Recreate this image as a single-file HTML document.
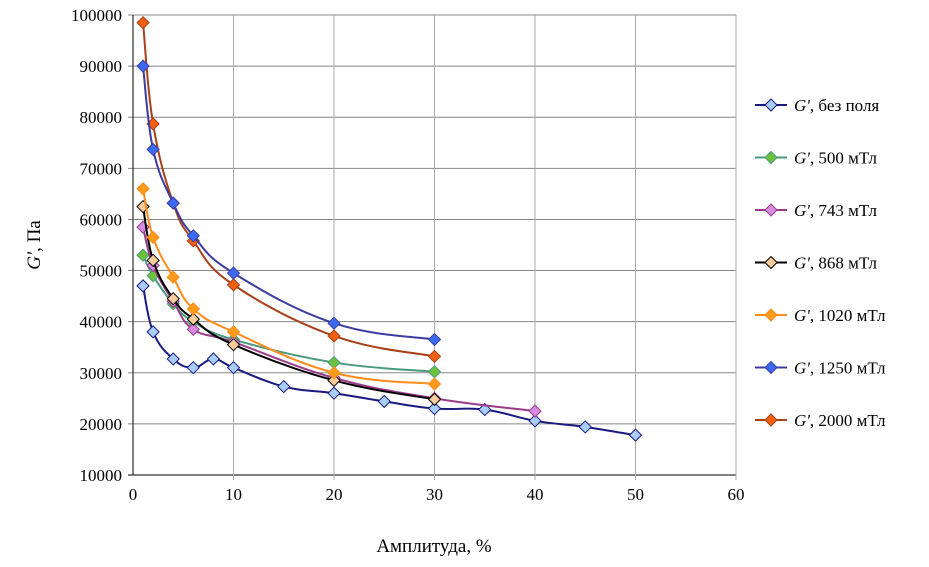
<!DOCTYPE html>
<html><head><meta charset="utf-8"><style>
body{margin:0;background:#fff}
svg text{font-family:"Liberation Serif",serif;fill:#000}
</style></head><body>
<svg id="chart" width="929" height="562"></svg>
<script>
const xTicks=[0,10,20,30,40,50,60];
const yTicks=[10000,20000,30000,40000,50000,60000,70000,80000,90000,100000];
const seriesNames=["без поля","500 мТл","743 мТл","868 мТл","1020 мТл","1250 мТл","2000 мТл"];
const xBase=[1,2,4,6,8,10,15,20,25,30,35,40,45,50];
const yBase=[47000,38000,32700,31000,32700,31000,27300,26000,24400,23000,22800,20600,19400,17800];
const x500=[1,2,4,6,10,20,30];
const y500=[53000,49000,43500,40000,36500,32000,30200];
const x743=[1,2,4,6,10,20,30,40];
const y743=[58500,51000,44000,38500,36000,29000,25000,22500];
const x868=[1,2,4,6,10,20,30];
const y868=[62500,52000,44500,40500,35500,28500,24800];
const x1020=[1,2,4,6,10,20,30];
const y1020=[66000,56500,48700,42500,38000,30000,27800];
const x1250=[1,2,4,6,10,20,30];
const y1250=[90000,73700,63200,56800,49500,39700,36500];
const x2000=[1,2,4,6,10,20,30];
const y2000=[98500,78700,63200,55800,47200,37200,33200];
const styles=[["#1a1a80","#a8cdf7"],["#4a9a80","#6cc23a"],["#9a3c8a","#d58ce0"],["#000","#f8cc9c"],["#ff8c1a","#ff9a1a"],["#3c3ca0","#3a6af0"],["#a8401a","#f0600f"]];
const X=v=>133+v*(736-133)/60, Y=v=>475-(v-10000)*460/90000;
const svg=document.getElementById('chart'),NS="http://www.w3.org/2000/svg";
function mk(t,a,p){const e=document.createElementNS(NS,t);for(const k in a)e.setAttribute(k,a[k]);(p||svg).appendChild(e);return e;}
yTicks.forEach(v=>{
 const l=mk('line',{x1:128,x2:736,y1:Y(v),y2:Y(v),stroke:v==10000?'#000':'#888','stroke-width':1});
 
 
 const t=mk('text',{x:122,y:Y(v)+6,'text-anchor':'end','font-size':17});t.textContent=v;
 
 
});
xTicks.forEach(v=>{
 if(v>0){const l=mk('line',{x1:X(v),x2:X(v),y1:15,y2:480,stroke:'#aaa','stroke-width':1});
 
 }
 const t=mk('text',{x:X(v),y:500,'text-anchor':'middle','font-size':17});t.textContent=v;
 
 
});
const ax=mk('line',{x1:133,x2:133,y1:15,y2:475,stroke:'#000'});


const xt=mk('text',{x:434,y:552,'text-anchor':'middle','font-size':19});xt.textContent='Амплитуда, %';


const yt=mk('text',{x:0,y:0,'text-anchor':'middle','font-size':19,transform:'translate(40,245) rotate(-90)'});
yt.innerHTML='<tspan font-style="italic">G\'</tspan>, Па';


function smooth(p){let d=`M${p[0][0]},${p[0][1]}`;for(let i=0;i<p.length-1;i++){const a=p[i-1]||p[i],b=p[i],c=p[i+1],e=p[i+2]||c;const t=0.2;d+=` C${b[0]+(c[0]-a[0])*t},${b[1]+(c[1]-a[1])*t} ${c[0]-(e[0]-b[0])*t},${c[1]-(e[1]-b[1])*t} ${c[0]},${c[1]}`;}return d;}
const data=[[xBase,yBase],[x500,y500],[x743,y743],[x868,y868],[x1020,y1020],[x1250,y1250],[x2000,y2000]];
function diamond(g,cx,cy,s,col,stroke){const m=mk('path',{d:`M${cx},${cy-6} L${cx+6},${cy} L${cx},${cy+6} L${cx-6},${cy}Z`,fill:col,stroke:stroke,'stroke-width':1},g);return m;}
const order=[0,1,2,3,4,6,5];
order.forEach(k=>{
 const [xs,ys]=data[k];const g=mk('g',{});
 
 
 const pts=xs.map((x,i)=>[X(x),Y(ys[i])]);
 const p=mk('path',{d:smooth(pts),fill:'none',stroke:styles[k][0],'stroke-width':2},g);
 
 
 pts.forEach(q=>{const m=diamond(g,q[0],q[1],6,styles[k][1],k==3?'#000':styles[k][0]);
 
 });
});
seriesNames.forEach((n,k)=>{
 const y=105+k*52.5;const g=mk('g',{});
 
 
 mk('line',{x1:755,x2:787,y1:y,y2:y,stroke:styles[k][0],'stroke-width':2},g);
 diamond(g,771,y,6,styles[k][1],k==3?'#000':styles[k][0]);
 const t=mk('text',{x:794,y:y+6,'font-size':17},g);
 t.innerHTML='<tspan font-style="italic">G\'</tspan>, '+n;
});
</script>
</body></html>
